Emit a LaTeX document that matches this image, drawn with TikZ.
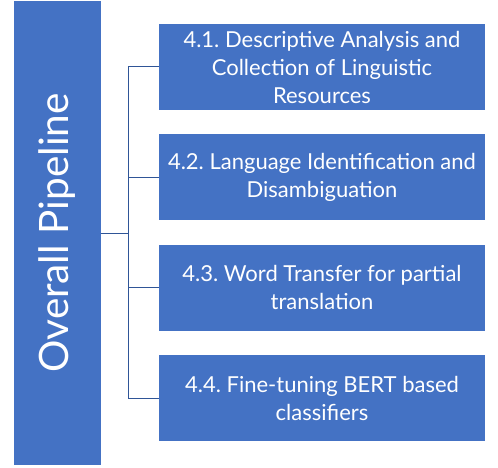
\documentclass[tikz,border=0pt]{standalone}
\usepackage{fontspec}
\setmainfont{Lato}
\usetikzlibrary{positioning}

\definecolor{boxblue}{HTML}{4472C4}
\definecolor{linkblue}{HTML}{2F5597}
\frenchspacing

\begin{document}
\begin{tikzpicture}[
    x=1pt, y=-1pt,
    % --- Node styles ---
    pipe/.style={fill=boxblue, minimum width=87pt, minimum height=464pt,
                 inner sep=0pt, text=white, font=\fontsize{40.5}{46}\selectfont},
    stage/.style={fill=boxblue, minimum width=326pt, minimum height=86pt,
                  inner sep=0pt, align=center, text=white,
                  font=\fontsize{22}{28}\selectfont},
    % --- Edge styles ---
    link/.style={draw=linkblue, line width=1pt},
    node distance=24pt,
]
\useasboundingbox (0,0) rectangle (498,468);

% === left column ===
\node[pipe] (pipe) at (57.5,233) {\rotatebox{90}{Overall Pipeline}};

% === stages ===
\node[stage] (s41) at (322,67) {4.1. Descriptive Analysis and\\Collection of Linguistic\\Resources};
\node[stage, below=of s41] (s42) {4.2. Language Identification and\\Disambiguation};
\node[stage, below=of s42] (s43) {4.3. Word Transfer for partial\\translation};
\node[stage, below=of s43] (s44) {4.4. Fine-tuning BERT based\\classifiers};

% --- connectors ---
\draw[link] (s41.west) -- ++(-30,0) coordinate (trunk) |- (s44.west);
\draw[link] (trunk |- s42.west) -- (s42.west);
\draw[link] (trunk |- s43.west) -- (s43.west);
\draw[link] (pipe.east) -- (trunk |- pipe.east);

\end{tikzpicture}
\end{document}
